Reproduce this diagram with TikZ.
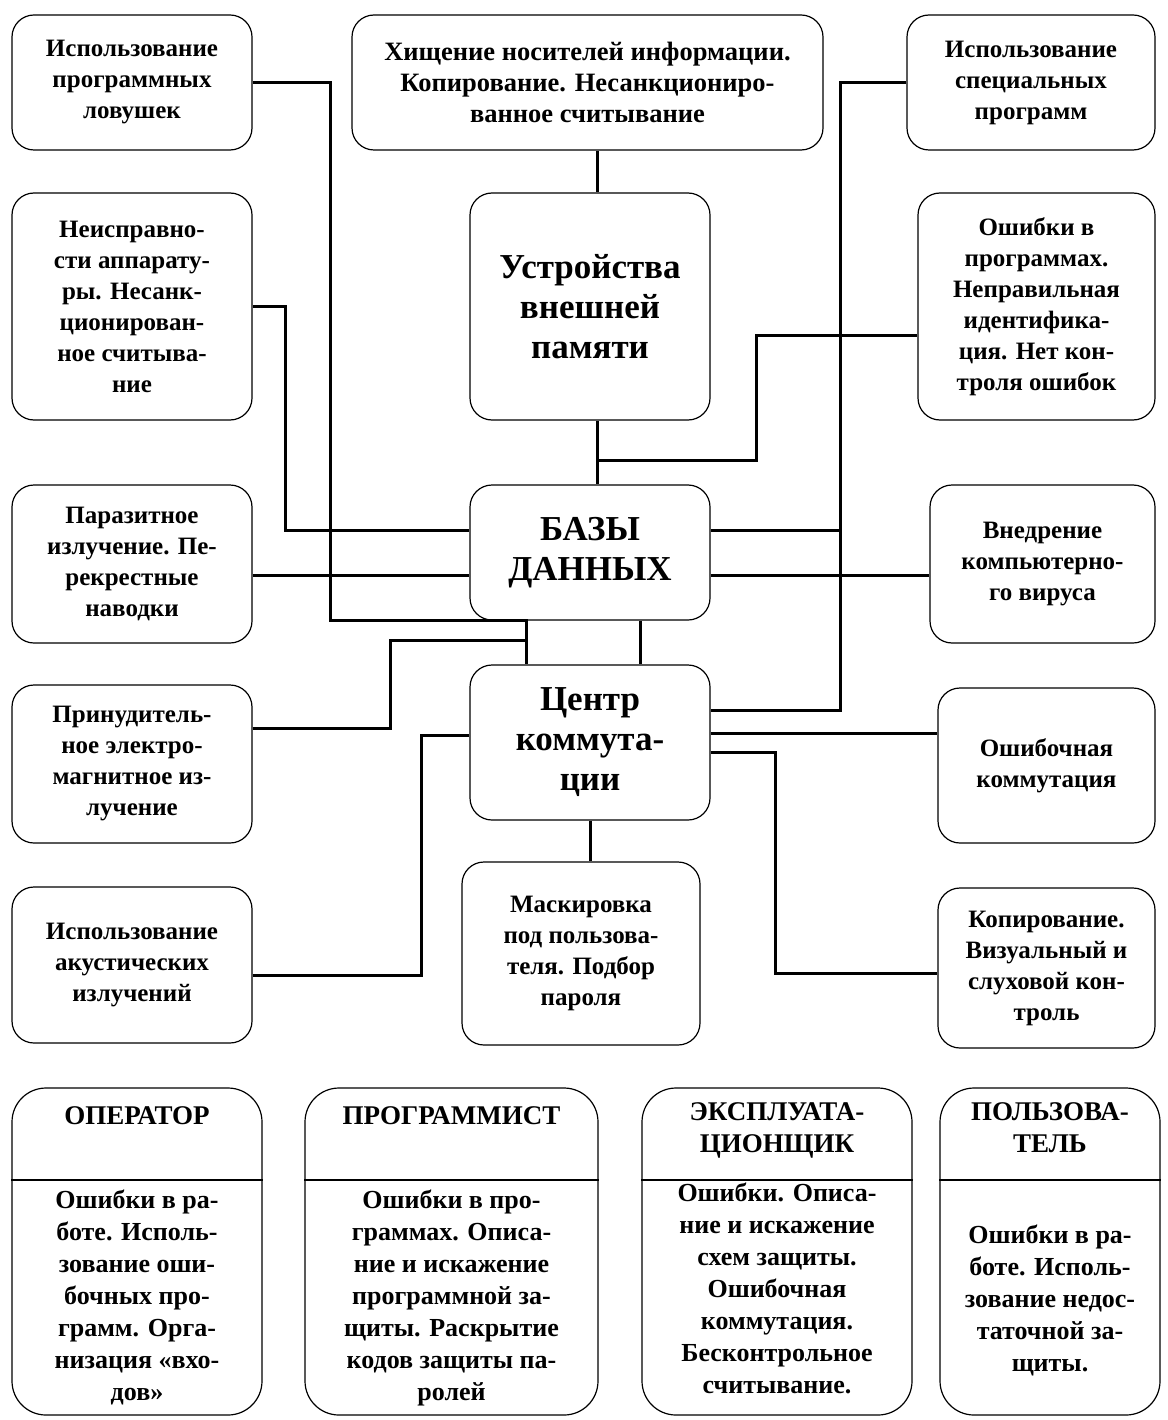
\documentclass[tikz,border=0pt]{standalone}
\usepackage{fontspec}
\setmainfont{Liberation Serif}
\usepackage{tikz}
\usetikzlibrary{positioning,calc}

\begin{document}
\begin{tikzpicture}[x=1pt, y=-1pt,
    threat/.style={rectangle, draw, line width=1.2pt, rounded corners=22pt, fill=white, align=center, inner sep=2pt, font=\fontsize{25}{31}\selectfont\bfseries},
    core/.style={threat, font=\fontsize{35}{40}\selectfont\bfseries},
    staff/.style={rectangle, draw, line width=1.2pt, rounded corners=34pt, minimum height=327},
    stafftext/.style={align=center, inner sep=0pt, font=\fontsize{26}{32}\selectfont\bfseries},
    stafftitle/.style={stafftext, font=\fontsize{27}{32}\selectfont\bfseries},
    wire/.style={line width=3pt}
]
    \useasboundingbox (0,0) rectangle (1167,1420);

    % Top row
    \node[threat, minimum width=240, minimum height=135] (lov) at (132,82.5) {Использование\\программных\\ловушек};
    \node[threat, minimum width=471, minimum height=135, font=\fontsize{26.5}{31}\selectfont\bfseries] (hish) at (587.5,82.5) {Хищение носителей информации.\\Копирование. Несанкциониро-\\ванное считывание};
    \node[threat, minimum width=248, minimum height=135] (spec) at (1031,82.5) {Использование\\специальных\\программ};

    % Second row
    \node[threat, minimum width=240, minimum height=227] (neis) at (132,306.5) {Неисправно-\\сти аппарату-\\ры. Несанк-\\ционирован-\\ное считыва-\\ние};
    \node[core, minimum width=240, minimum height=227] (ustr) at (590,306.5) {Устройства\\внешней\\памяти};
    \node[threat, minimum width=237, minimum height=227] (oprog) at (1036.5,306.5) {Ошибки в\\программах.\\Неправильная\\идентифика-\\ция. Нет кон-\\троля ошибок};

    % Third row
    \node[threat, minimum width=240, minimum height=158] (paraz) at (132,564) {Паразитное\\излучение. Пе-\\рекрестные\\наводки};
    \node[core, minimum width=240, minimum height=135] (bd) at (590,552.5) {БАЗЫ\\ДАННЫХ};
    \node[threat, minimum width=225, minimum height=158] (virus) at (1042.5,564) {Внедрение\\компьютерно-\\го вируса};

    % Fourth row
    \node[threat, minimum width=240, minimum height=158] (prin) at (132,764) {Принудитель-\\ное электро-\\магнитное из-\\лучение};
    \node[core, minimum width=240, minimum height=155] (ctr) at (590,742.5) {Центр\\коммута-\\ции};
    \node[threat, minimum width=217, minimum height=155] (komm) at (1046.5,765.5) {Ошибочная\\коммутация};

    % Fifth row
    \node[threat, minimum width=240, minimum height=156] (akust) at (132,965) {Использование\\акустических\\излучений};
    \node[threat, minimum width=238, minimum height=183] (mask) at (581,953.5) {Маскировка\\под пользова-\\теля. Подбор\\пароля};
    \node[threat, minimum width=217, minimum height=160] (kopir) at (1046.5,968) {Копирование.\\Визуальный и\\слуховой кон-\\троль};

    % Staff cards
    \node[staff, minimum width=250] (oper) at (137,1251.5) {};
    \node[staff, minimum width=293] (progr) at (451.5,1251.5) {};
    \node[staff, minimum width=270] (expl) at (777,1251.5) {};
    \node[staff, minimum width=220] (polz) at (1050,1251.5) {};
    \foreach \c in {oper,progr,expl,polz}
        \draw[line width=1.2pt] (\c.west |- 0,1180) -- (\c.east |- 0,1180);

    \node[stafftitle, anchor=north] (operhead) at (oper.north |- 0,1106) {ОПЕРАТОР};
    \node[stafftitle, anchor=north] (progrhead) at (progr.north |- 0,1106) {ПРОГРАММИСТ};
    \node[stafftitle, anchor=north] (explhead) at (expl.north |- 0,1102) {ЭКСПЛУАТА-\\ЦИОНЩИК};
    \node[stafftitle, anchor=north] (polzhead) at (polz.north |- 0,1102) {ПОЛЬЗОВА-\\ТЕЛЬ};

    \node[stafftext, anchor=north] (operbody) at (oper.north |- 0,1190) {Ошибки в ра-\\боте. Исполь-\\зование оши-\\бочных про-\\грамм. Орга-\\низация «вхо-\\дов»};
    \node[stafftext, anchor=north] (progrbody) at (progr.north |- 0,1190) {Ошибки в про-\\граммах. Описа-\\ние и искажение\\программной за-\\щиты. Раскрытие\\кодов защиты па-\\ролей};
    \node[stafftext, anchor=north] (explbody) at (expl.north |- 0,1183) {Ошибки. Описа-\\ние и искажение\\схем защиты.\\Ошибочная\\коммутация.\\Бесконтрольное\\считывание.};
    \node[stafftext] (polzbody) at (1050,1300) {Ошибки в ра-\\боте. Исполь-\\зование недос-\\таточной за-\\щиты.};

    % Central spine
    \coordinate (mid) at (597,460);
    \draw[wire] (hish.south -| mid) -- (ustr.north -| mid);
    \draw[wire] (ustr.south -| mid) -- (bd.north -| mid);
    \coordinate (t1) at (756,335);
    \draw[wire] (mid) -| (t1) -- (oprog.west |- t1);
    \draw[wire] ($(bd.south)+(50,0)$) -- ($(ctr.north)+(50,0)$);
    \draw[wire] (ctr.south) -- (ctr.south |- mask.north);

    % Right side
    \coordinate (rv) at (840,710);
    \draw[wire] (spec.west) -| (rv) -- (ctr.east |- rv);
    \coordinate (ya) at (0,530);
    \coordinate (yb) at (0,575);
    \draw[wire] (bd.east |- ya) -- (rv |- ya);
    \draw[wire] (bd.east |- yb) -- (virus.west |- yb);
    \coordinate (r2) at (0,733);
    \draw[wire] (ctr.east |- r2) -- (komm.west |- r2);
    \coordinate (r3) at (775,973);
    \draw[wire] (ctr.east |- 0,752) -| (r3) -- (kopir.west |- r3);

    % Left side
    \coordinate (l1) at (330,620);
    \coordinate (cin) at ($(ctr.north west)+(57,0)$);
    \draw[wire] (lov.east) -| (l1) -| (cin);
    \coordinate (l2) at (285,530);
    \draw[wire] (neis.east) -| (l2) -- (bd.west |- l2);
    \draw[wire] (paraz.east |- yb) -- (bd.west |- yb);
    \coordinate (l3) at (390,640);
    \draw[wire] (prin.east |- 0,728) -| (l3) -- (l3 -| cin);
    \coordinate (l4) at (421,735);
    \draw[wire] ([yshift=-10pt]akust.east) -| (l4) -- (ctr.west |- l4);
\end{tikzpicture}
\end{document}
